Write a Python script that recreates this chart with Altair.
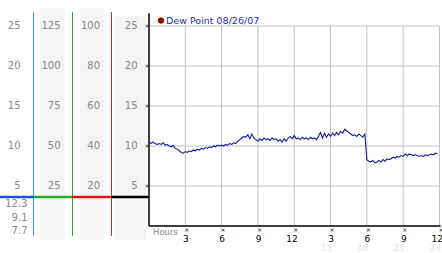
import altair as alt
import pandas as pd

# ---------------- data ----------------
dew_values = [
    10.6, 10.3, 10.5, 10.3, 10.2, 10.3,
    10.2, 10.4, 10.1, 10.2, 10.0, 9.9,
    10.1, 9.7, 9.6, 9.4, 9.2, 9.1,
    9.3, 9.2, 9.4, 9.3, 9.5, 9.4,
    9.6, 9.5, 9.7, 9.6, 9.8, 9.7,
    9.9, 9.8, 10.0, 9.9, 10.1, 10.0,
    10.1, 10.0, 10.2, 10.1, 10.3, 10.2,
    10.4, 10.3, 10.6, 10.8, 11.0, 11.2,
    11.1, 11.4, 10.9, 11.5, 11.0, 10.8,
    10.6, 10.9, 10.7, 11.0, 10.8, 10.9,
    10.7, 11.0, 10.8, 10.9, 10.6, 10.8,
    10.5, 10.9, 10.6, 11.0, 11.2, 10.9,
    11.3, 10.9, 11.0, 10.8, 11.1, 10.9,
    11.0, 10.8, 11.1, 10.9, 11.0, 10.8,
    11.2, 11.7, 11.0, 11.6, 11.1, 11.5,
    11.2, 11.6, 11.3, 11.7, 11.4, 11.8,
    11.6, 12.1, 11.9, 11.7, 11.5, 11.3,
    11.4, 11.2, 11.5, 11.3, 11.1, 11.5,
    8.3, 8.1, 8.0, 8.2, 7.9, 8.0,
    8.2, 8.0, 8.3, 8.1, 8.4, 8.3,
    8.4, 8.6, 8.5, 8.7, 8.6, 8.8,
    8.7, 9.0, 8.8, 9.0, 8.9, 8.8,
    8.9, 8.8, 8.7, 8.8, 8.7, 8.9,
    8.8, 8.9, 9.0, 8.9, 9.1, 9.0,
]
dew_hours = [i / 6 for i in range(len(dew_values))]

grid_values = [25, 20, 15, 10, 5]
col1_labels = ["25", "20", "15", "10", "5"]
col2_labels = ["125", "100", "75", "50", "25"]
col3_labels = ["100", "80", "60", "40", "20"]
col4_labels = ["25", "20", "15", "10", "5"]
stat_labels = ["12.3", "9.1", "7.7"]

hour_ticks = [3, 6, 9, 12, 15, 18, 21, 24]
hour_labels = ["3", "6", "9", "12", "3", "6", "9", "12"]
hour_sub_labels = ["", "", "", "", "15", "18", "21", "24"]

legend_text = "Dew Point 08/26/07"

# ---------------- scales ----------------
W, H = 442, 253
xs = alt.Scale(domain=[-12.31, 24.21], nice=False, zero=False)
ys = alt.Scale(domain=[-3.375, 28.25], nice=False, zero=False)
FONT = "DejaVu Sans"

one = pd.DataFrame({"a": [0]})
dew = pd.DataFrame({"h": dew_hours, "v": dew_values})
grid = pd.DataFrame({"v": grid_values, "c1": col1_labels, "c2": col2_labels,
                     "c3": col3_labels, "c4": col4_labels})
hours = pd.DataFrame({"h": hour_ticks, "lab": hour_labels, "sub": hour_sub_labels})
gridx = pd.DataFrame({"v": grid_values, "x0": [0] * 5, "x1": [24] * 5})
gridy = pd.DataFrame({"h": hour_ticks, "y0": [0] * 8, "y1": [25] * 8})
axes_v = pd.DataFrame({"h": [0], "y0": [0], "y1": [26.6]})
axes_h = pd.DataFrame({"v": [0], "x0": [0], "x1": [24.1]})

layers = []

# background bands
for x1, x2, y1 in [(40, 65, 8), (80, 104, 8), (115, 146, 16)]:
    layers.append(alt.Chart(one).mark_rect(color="#f4f4f4").encode(
        x=alt.value(x1), x2=alt.value(x2), y=alt.value(y1), y2=alt.value(240)))

# coloured vertical separators
for xp, col in [(33.5, "#3a9ad0"), (72.5, "#2aa02a"), (111.5, "#b83030")]:
    layers.append(alt.Chart(one).mark_rule(color=col, strokeWidth=1).encode(
        x=alt.value(xp), y=alt.value(12), y2=alt.value(236)))

# coloured horizontal segments
for x1, x2, col in [(0, 34, "#1f4fd6"), (34, 72, "#22b022"),
                    (72, 111, "#e01818"), (111, 149, "#000000")]:
    layers.append(alt.Chart(one).mark_rule(color=col, strokeWidth=2.5).encode(
        x=alt.value(x1), x2=alt.value(x2), y=alt.value(197)))

# left scale columns
for field, xp in [("c1", 20.5), ("c2", 60.5), ("c3", 100), ("c4", 137.5)]:
    layers.append(alt.Chart(grid).mark_text(
        align="right", baseline="middle", font=FONT, fontSize=10, color="#888888"
    ).encode(y=alt.Y("v:Q", scale=ys, axis=None), x=alt.value(xp), text=f"{field}:N"))

# stats below the line
for lab, yp in zip(stat_labels, [204, 217.5, 231]):
    layers.append(alt.Chart(one).mark_text(
        text=lab, align="right", baseline="middle", font=FONT, fontSize=10,
        color="#888888"
    ).encode(x=alt.value(27.5), y=alt.value(yp)))

# grid lines
layers.append(alt.Chart(gridx).mark_rule(color="#c0c0c0", strokeWidth=1).encode(
    y=alt.Y("v:Q", scale=ys, axis=None),
    x=alt.X("x0:Q", scale=xs, axis=None), x2="x1:Q"))
layers.append(alt.Chart(gridy).mark_rule(color="#c0c0c0", strokeWidth=1).encode(
    x=alt.X("h:Q", scale=xs, axis=None),
    y=alt.Y("y0:Q", scale=ys, axis=None), y2="y1:Q"))

# axis lines
layers.append(alt.Chart(axes_v).mark_rule(color="#000000", strokeWidth=1.5).encode(
    x=alt.X("h:Q", scale=xs, axis=None),
    y=alt.Y("y0:Q", scale=ys, axis=None), y2="y1:Q"))
layers.append(alt.Chart(axes_h).mark_rule(color="#000000", strokeWidth=1.5).encode(
    y=alt.Y("v:Q", scale=ys, axis=None),
    x=alt.X("x0:Q", scale=xs, axis=None), x2="x1:Q"))

# tick glyphs
layers.append(alt.Chart(grid).mark_text(
    text="×", font=FONT, fontSize=6, color="#000000", baseline="middle"
).encode(y=alt.Y("v:Q", scale=ys, axis=None), x=alt.value(147)))
layers.append(alt.Chart(hours).mark_text(
    text="×", font=FONT, fontSize=6, color="#000000", baseline="middle", dx=1.5
).encode(x=alt.X("h:Q", scale=xs, axis=None), y=alt.value(230)))

# x labels
layers.append(alt.Chart(hours).mark_text(
    font=FONT, fontSize=9, color="#000000", baseline="middle", align="right", dx=3.5
).encode(x=alt.X("h:Q", scale=xs, axis=None), y=alt.value(238.5), text="lab:N"))
layers.append(alt.Chart(hours).mark_text(
    font=FONT, fontSize=9, color="#e6e6e6", baseline="middle", align="center", dx=-4
).encode(x=alt.X("h:Q", scale=xs, axis=None), y=alt.value(247.5), text="sub:N"))
layers.append(alt.Chart(one).mark_text(
    text="Hours", font=FONT, fontSize=8.5, color="#888888", align="left", baseline="middle"
).encode(x=alt.value(153), y=alt.value(232)))

# data line
layers.append(alt.Chart(dew).mark_line(color="#1a1a9a", strokeWidth=1.1).encode(
    x=alt.X("h:Q", scale=xs, axis=None), y=alt.Y("v:Q", scale=ys, axis=None)))

# legend
layers.append(alt.Chart(one).mark_point(
    shape="circle", filled=True, size=30, color="#b00000", stroke="#400000",
    strokeWidth=0.8, opacity=1
).encode(x=alt.value(161), y=alt.value(20.5)))
layers.append(alt.Chart(one).mark_text(
    text=legend_text, font=FONT, fontSize=9.5, color="#2233aa", align="left",
    baseline="middle"
).encode(x=alt.value(166), y=alt.value(20.5)))

chart = alt.layer(*layers).properties(
    width=W, height=H, autosize=alt.AutoSizeParams(type="none"), padding=0,
    background="#ffffff"
).configure_view(stroke=None)

chart.save("out.html", embed_options={"renderer": "svg", "actions": False})
